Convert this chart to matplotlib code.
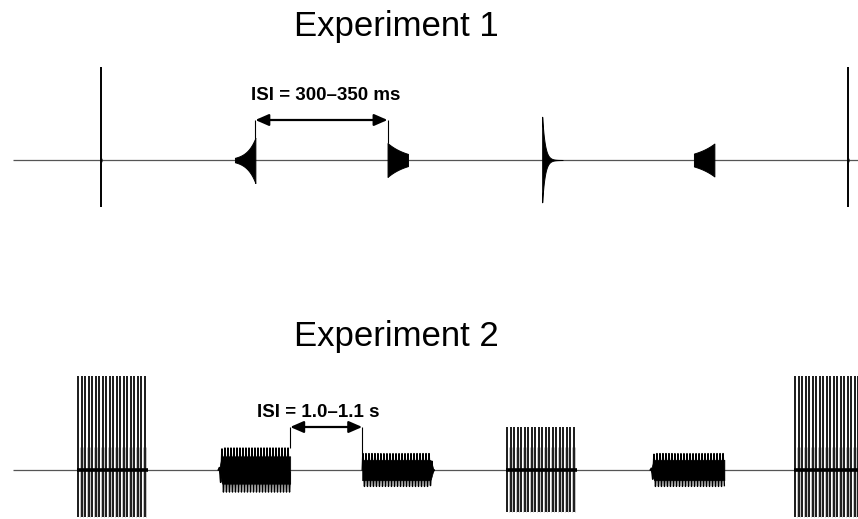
import numpy as np
import matplotlib
matplotlib.use("Agg")
import matplotlib.pyplot as plt
from matplotlib.transforms import blended_transform_factory

plt.rcParams['font.family'] = ['Liberation Sans', 'DejaVu Sans']

# ---------------- data ----------------
# Experiment 1 (time in ms)
exp1_title = "Experiment 1"
exp1_kinds = ["click", "ramped", "damped", "damped", "ramped", "click"]
exp1_onsets_ms = [216, 544, 918, 1297, 1669, 2047]
exp1_durations_ms = [2, 50, 50, 50, 50, 2]
exp1_peak_pos = [0.99, 0.235, 0.18, 0.46, 0.175, 0.99]
exp1_peak_neg = [0.50, 0.245, 0.18, 0.45, 0.175, 0.50]
exp1_half_life_ms = [0, 15, 34, 4.6, 37, 0]
exp1_isi_label = "ISI = 300\u2013350 ms"
exp1_isi_between = (1, 2)
exp1_end_ms = 2071

# Experiment 2 (time in s)
exp2_title = "Experiment 2"
exp2_kinds = ["pulse", "tone", "tone", "pulse", "tone", "pulse"]
exp2_onsets_s = [0.89, 2.85, 4.85, 6.85, 8.85, 10.85]
exp2_durations_s = [0.98, 1.00, 1.00, 0.99, 1.03, 1.00]
exp2_peak_pos = [1.00, 0.235, 0.175, 0.46, 0.175, 1.00]
exp2_peak_neg = [0.50, 0.235, 0.175, 0.45, 0.175, 0.50]
exp2_taper = ["none", "on", "off", "none", "on", "none"]
exp2_pulse_period_s = 0.0486
exp2_tone_period_s = 0.0417
exp2_isi_label = "ISI = 1.0\u20131.1 s"
exp2_isi_between = (1, 2)
exp2_end_s = 11.74

# ---------------- figure ----------------
W, H = 858, 519
fig = plt.figure(figsize=(W / 100, H / 100), dpi=100)
ax1 = fig.add_axes([0, 1 - 260 / H, 1, 260 / H])
ax2 = fig.add_axes([0, 0, 1, 259 / H])
for ax in (ax1, ax2):
    ax.axis("off")

ax1.set_xlim(-13 / 0.408, (W - 13) / 0.408)
ax1.set_ylim(-100 / 94, 160 / 94)
ax2.set_xlim(-13 / 72, (W - 13) / 72)
ax2.set_ylim(-49 / 94, 210 / 94)

base_col = "#555555"

# ---- Experiment 1 ----
ax1.hlines(0, 0, exp1_end_ms, color=base_col, lw=0.9, zorder=1)
for kind, on, dur, ap, an, hl in zip(exp1_kinds, exp1_onsets_ms, exp1_durations_ms,
                                      exp1_peak_pos, exp1_peak_neg, exp1_half_life_ms):
    if kind == "click":
        ax1.vlines(on, -an, ap, color="k", lw=1.4, zorder=3)
        ax1.hlines(0, on - 1.5, on + 1.5, color="k", lw=2.5, zorder=3)
    else:
        t = np.linspace(on, on + dur, 500)
        tau = hl / np.log(2)
        if kind == "ramped":
            env = np.exp(-(on + dur - t) / tau)
        else:
            env = np.exp(-(t - on) / tau)
        ax1.fill_between(t, -an * env, ap * env, color="k", lw=0.7, zorder=3)

ax1.text(396 / W, 1.319, exp1_title, fontsize=25, ha="center", va="baseline",
         transform=blended_transform_factory(ax1.transAxes, ax1.transData))

i, j = exp1_isi_between
x1 = exp1_onsets_ms[i] + exp1_durations_ms[i]
x2 = exp1_onsets_ms[j]
y_arr = 40 / 94
ax1.vlines(x1, exp1_peak_pos[i], y_arr, color="k", lw=0.8, zorder=3)
ax1.vlines(x2, exp1_peak_pos[j], y_arr, color="k", lw=0.8, zorder=3)
ax1.annotate("", xy=(x2, y_arr), xytext=(x1, y_arr),
             arrowprops=dict(arrowstyle="<|-|>,head_length=0.8,head_width=0.35",
                             color="k", lw=1.6, mutation_scale=10,
                             shrinkA=0, shrinkB=0))
ax1.annotate(exp1_isi_label, xy=((x1 + x2) / 2, 60 / 94), xytext=(3, 0),
             textcoords="offset points", ha="center", va="baseline",
             fontsize=13.5, fontweight="bold")

# ---- Experiment 2 ----
ax2.hlines(0, 0, exp2_end_s, color=base_col, lw=0.9, zorder=1)
for kind, on, dur, ap, an, tp in zip(exp2_kinds, exp2_onsets_s, exp2_durations_s,
                                      exp2_peak_pos, exp2_peak_neg, exp2_taper):
    if kind == "pulse":
        n = int(round(dur / exp2_pulse_period_s))
        tk = on + exp2_pulse_period_s * (np.arange(n) + 0.3)
        ax2.vlines(tk + exp2_pulse_period_s * 0.5, -an, 0.245, color="#b8b8b8",
                   lw=0.6, zorder=2)
        ax2.vlines(tk, -an, ap, color="k", lw=1.25, zorder=3)
        ax2.hlines(0, on, on + dur, color="k", lw=2.6, zorder=3)
    else:
        t = np.linspace(on, on + dur, int(dur / exp2_tone_period_s * 40))
        s = np.sin(2 * np.pi * (t - on) / exp2_tone_period_s)
        env = np.ones_like(t)
        rl = 0.06
        if tp == "on":
            m = t < on + rl
            env[m] = 0.5 - 0.5 * np.cos(np.pi * (t[m] - on) / rl)
        elif tp == "off":
            m = t > on + dur - rl
            env[m] = 0.5 - 0.5 * np.cos(np.pi * (on + dur - t[m]) / rl)
        y = np.where(s > 0, ap, an) * s * env
        ax2.fill_between(t, -0.62 * an * env, 0.62 * ap * env, color="k",
                         lw=0.5, zorder=3)
        ax2.plot(t, y, color="k", lw=1.0, zorder=3)

ax2.text(396 / W, 1.319, exp2_title, fontsize=25, ha="center", va="baseline",
         transform=blended_transform_factory(ax2.transAxes, ax2.transData))

i, j = exp2_isi_between
x1 = exp2_onsets_s[i] + exp2_durations_s[i]
x2 = exp2_onsets_s[j]
y_arr = 43 / 94
ax2.vlines(x1, exp2_peak_pos[i], y_arr, color="k", lw=0.8, zorder=3)
ax2.vlines(x2, exp2_peak_pos[j], y_arr, color="k", lw=0.8, zorder=3)
ax2.annotate("", xy=(x2, y_arr), xytext=(x1, y_arr),
             arrowprops=dict(arrowstyle="<|-|>,head_length=0.8,head_width=0.35",
                             color="k", lw=1.6, mutation_scale=10,
                             shrinkA=0, shrinkB=0))
ax2.annotate(exp2_isi_label, xy=((x1 + x2) / 2, 53 / 94), xytext=(-6, 0),
             textcoords="offset points", ha="center", va="baseline",
             fontsize=13.5, fontweight="bold")

fig.savefig("out.png", dpi=100)
